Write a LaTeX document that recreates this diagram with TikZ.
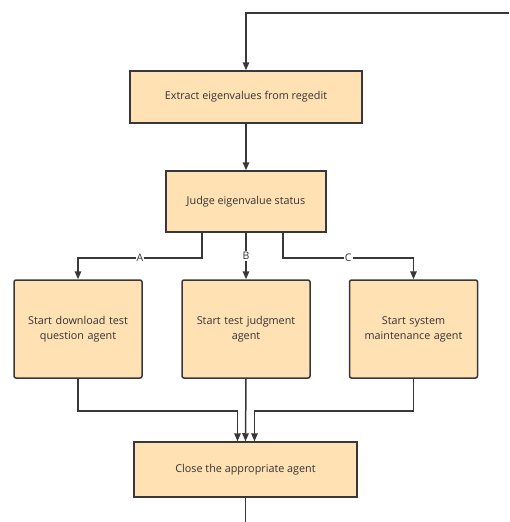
\documentclass[tikz,border=0pt]{standalone}
\usepackage{fontspec}
\setmainfont{Open Sans}
\usetikzlibrary{arrows.meta}
\definecolor{boxfill}{HTML}{FFE1B4}
\definecolor{boxline}{HTML}{383838}
\definecolor{boxtext}{HTML}{333333}

\begin{document}
\begin{tikzpicture} [
    x=1pt, y=-1pt,
    block/.style    = { rectangle, draw=boxline, fill=boxfill, line width=1.5pt,
                        text=boxtext, text centered, inner sep=0pt,
                        font=\fontsize{10.8}{15}\selectfont },
    agent/.style    = { block, rounded corners=2pt, minimum width=128pt,
                        minimum height=98pt, text width=124pt },
    line/.style     = { draw=boxline, line width=1.5pt,
                        -{Triangle[length=8pt,width=6.5pt]} },
    plain/.style    = { draw=boxline, line width=1.5pt },
    lbl/.style      = { fill=white, text=boxtext, inner sep=1pt,
                        font=\fontsize{10.5}{11}\selectfont },
  ]
  \useasboundingbox (0,0) rectangle (509,522);

  % Define nodes
  \node[block, minimum width=232pt, minimum height=52pt] (extract) at (246,97)
    {Extract eigenvalues from regedit};
  \node[block, minimum width=160pt, minimum height=61pt] (judge) at (246,201.5)
    {Judge eigenvalue status};
  \node[agent] (download) at (78,329) {Start download test\\question agent};
  \node[agent] (judgment) at (246,329) {Start test judgment\\agent};
  \node[agent] (maint) at (413.5,329) {Start system\\maintenance agent};
  \node[block, minimum width=223pt, minimum height=55pt] (close) at (245.5,469.5)
    {Close the appropriate agent};
  \coordinate (entry) at (509,13);
  \coordinate (exit) at (245.5,522);

  % connect the nodes
		\path [line] (entry) -| (extract.north);
		\path [line] (extract) -- (judge);
		\path [line] ([xshift=-44pt]judge.south) -- ++(0,25) -| node[lbl,pos=0.25]{A} (download.north);
		\path [line] (judge.south) -- node[lbl]{B} (judgment.north);
		\path [line] ([xshift=37pt]judge.south) -- ++(0,25) -| node[lbl,pos=0.25]{C} (maint.north);
		\path [line] (download.south) -- ++(0,32) -| ([xshift=-8pt]close.north);
		\path [line] (judgment.south) -- (close.north);
		\path [line] (maint.south) -- ++(0,32) -| ([xshift=9pt]close.north);
		\path [plain] (close.south) -- (exit);
\end{tikzpicture}
\end{document}
